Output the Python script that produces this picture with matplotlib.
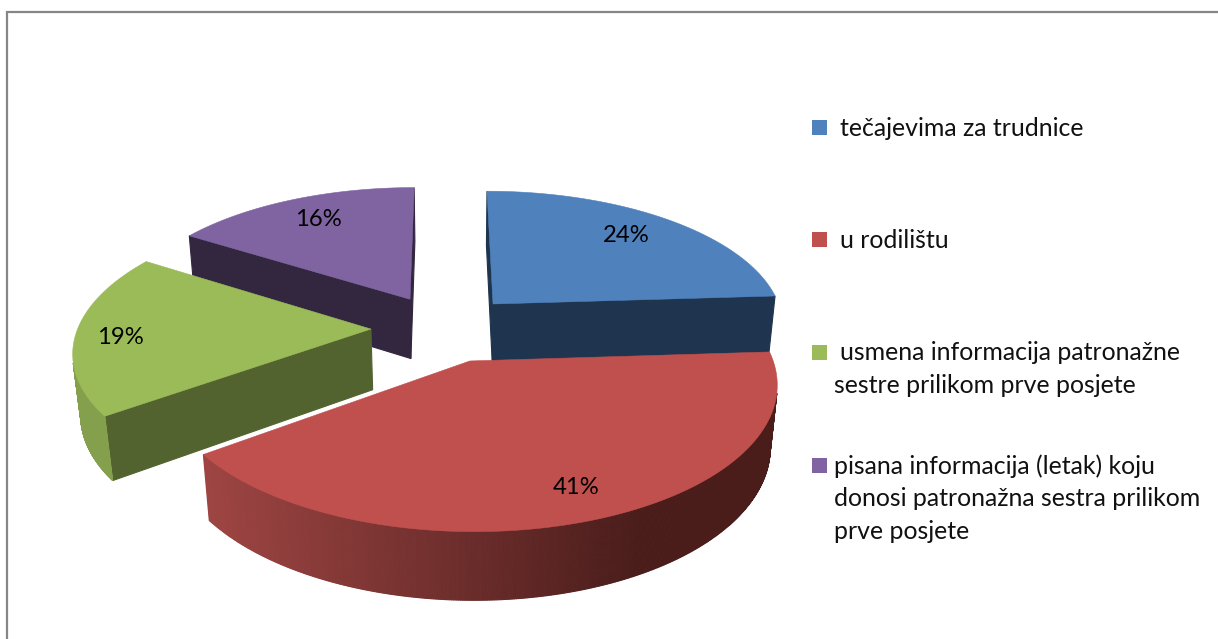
import numpy as np
import matplotlib
matplotlib.use("Agg")
import matplotlib.pyplot as plt
from matplotlib.patches import Polygon, Rectangle

plt.rcParams["font.family"] = ["Lato", "DejaVu Sans"]

categories = [
    "tečajevima za trudnice",
    "u rodilištu",
    "usmena informacija patronažne\nsestre prilikom prve posjete",
    "pisana informacija (letak) koju\ndonosi patronažna sestra prilikom\nprve posjete",
]
values = [24, 41, 19, 16]
top_colors = ["#4F81BD", "#C0504D", "#9BBB59", "#8064A2"]
face_colors = ["#1F344E", "#4A1D1B", "#53632F", "#33273F"]
wall_left = ["#1F344E", "#9E4543", "#84A04C", "#33273F"]
wall_right = ["#1F344E", "#4A1D1B", "#84A04C", "#33273F"]

# camera numbers fitted to the corners of the picture
X0, Y0, R, K = 444.2, 328.0, 293.0, 0.1444
VX, VY = 444.0, -610.0
ZX, ZY, ZT = 455.0, 3270.0, 0.0206
EXPLODE = 0.25
DRAW_ORDER = [3, 0, 2, 1]


def project(x, y):
    w = 1 + K * y
    return (X0 + R * x + VX * K * y) / w, (Y0 + VY * K * y) / w, w


def drop(sx, sy, w):
    t = ZT / w
    return sx + (ZX - sx) * t, sy + (ZY - sy) * t


def hex_mix(c1, c2, f):
    a = np.array(matplotlib.colors.to_rgb(c1))
    b = np.array(matplotlib.colors.to_rgb(c2))
    return tuple(a + (b - a) * f)


fig = plt.figure(figsize=(12.18, 6.39), dpi=100)
ax = fig.add_axes([0, 0, 1, 1])
ax.set_xlim(0, 1218)
ax.set_ylim(639, 0)
ax.axis("off")

# chart frame, the right and bottom sides are cut off in the picture
ax.plot([7, 7, 1218], [639, 12, 12], color="#868686", lw=1.6, solid_joinstyle="miter")

fractions = np.array(values) / sum(values)
ends = np.cumsum(fractions) * 2 * np.pi
starts = ends - fractions * 2 * np.pi

for i in DRAW_ORDER:
    mid = (starts[i] + ends[i]) / 2
    ex, ey = EXPLODE * np.sin(mid), EXPLODE * np.cos(mid)
    ang = np.linspace(starts[i], ends[i], 400)
    xs = np.concatenate([[ex], ex + np.sin(ang)])
    ys = np.concatenate([[ey], ey + np.cos(ang)])
    sx, sy, w = project(xs, ys)
    bx, by = drop(sx, sy, w)

    # walls, skipping the ones that face away
    n = len(sx)
    for j in range(n):
        k = (j + 1) % n
        quad = [(sx[j], sy[j]), (sx[k], sy[k]), (bx[k], by[k]), (bx[j], by[j])]
        q = np.array(quad)
        area = np.sum(q[:, 0] * np.roll(q[:, 1], -1) - np.roll(q[:, 0], -1) * q[:, 1])
        if area >= 0:
            continue
        if j == 0 or j == n - 1:
            col = face_colors[i]
        else:
            f = np.clip((sx[j] - 205) / (640 - 205), 0, 1)
            col = hex_mix(wall_left[i], wall_right[i], f)
        ax.add_patch(Polygon(quad, closed=True, fc=col, ec=col, lw=0.8))
    ax.add_patch(Polygon(np.column_stack([sx, sy]), closed=True, fc=top_colors[i], ec=top_colors[i], lw=0.4))

# data labels
label_x = [626, 576, 120, 318]
label_y = [235, 487, 337, 219]
for v, lx, ly in zip(values, label_x, label_y):
    ax.text(lx, ly, f"{v}%", ha="center", va="center", fontsize=17.2, color="black")

# legend
square_y = [120, 232, 345, 458]
first_x = [840, 840, 840, 834]
first_y = [128, 241, 353, 466]
LINE_GAP = 32.8
for i, cat in enumerate(categories):
    ax.add_patch(Rectangle((812, square_y[i]), 15, 15, fc=top_colors[i], ec="none"))
    for j, line in enumerate(cat.split("\n")):
        tx = first_x[i] if j == 0 else 834
        ax.text(tx, first_y[i] + j * LINE_GAP, line, ha="left", va="center", fontsize=17.9, color="#111111")

fig.savefig("out.png", dpi=100)
